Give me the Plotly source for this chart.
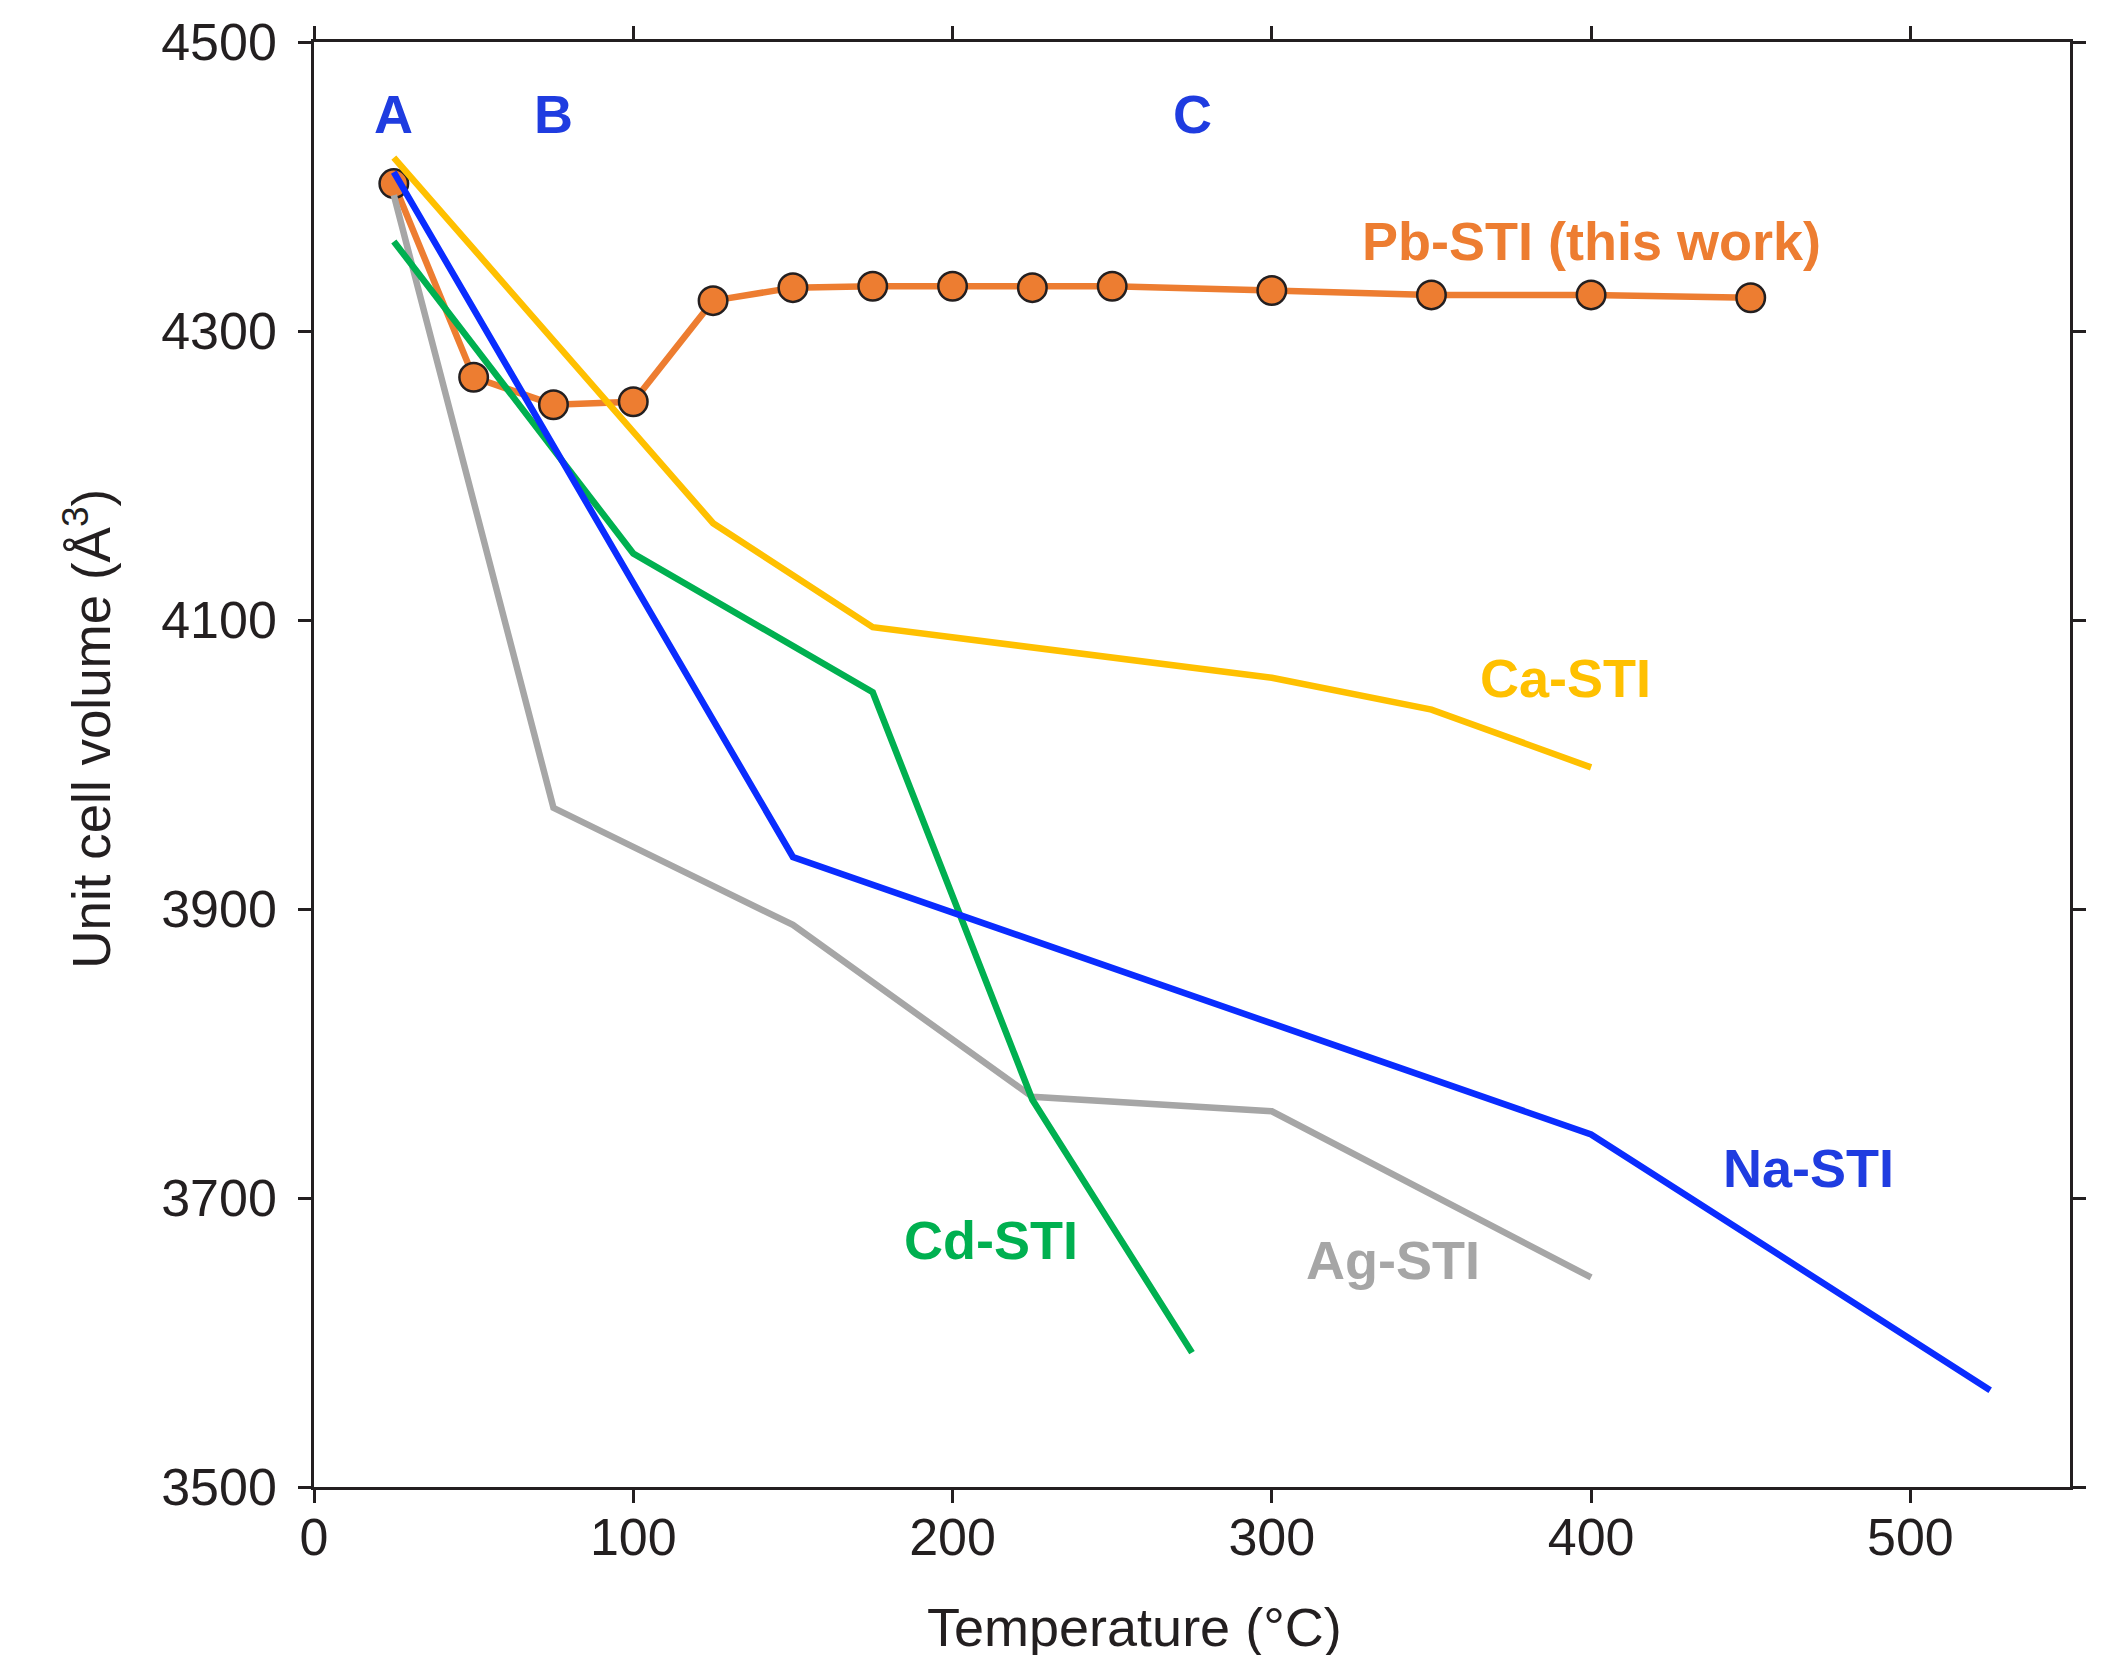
import plotly.graph_objects as go

# ---- data ----
pb_temp = [25, 50, 75, 100, 125, 150, 175, 200, 225, 250, 300, 350, 400, 450]
pb_vol = [4402, 4268, 4249, 4251, 4321, 4330, 4331, 4331, 4330, 4331, 4328, 4325, 4325, 4323]

ag_temp = [25, 75, 150, 225, 300, 400]
ag_vol = [4394, 3970, 3889, 3770, 3760, 3645]

cd_temp = [25, 100, 175, 225, 275]
cd_vol = [4362, 4146, 4050, 3768, 3593]

na_temp = [25, 150, 400, 525]
na_vol = [4410, 3936, 3744, 3567]

ca_temp = [25, 125, 175, 300, 350, 400]
ca_vol = [4420, 4167, 4095, 4060, 4038, 3998]

x_ticks = [0, 100, 200, 300, 400, 500]
y_ticks = [3500, 3700, 3900, 4100, 4300, 4500]

stage_labels = ["A", "B", "C"]
stage_temps = [25, 75, 275]
stage_vol = 4450

# ---- styles ----
ORANGE = "#ED7D31"
YELLOW = "#FFC000"
BLUE = "#0A2CFF"
LBLUE = "#1F3CE0"
GREEN = "#00B050"
GREY = "#A6A6A6"
INK = "#231F20"
FONT = "Liberation Sans, Arial, sans-serif"
LW = 6.5

fig = go.Figure()

fig.add_trace(go.Scatter(x=pb_temp, y=pb_vol, mode="lines+markers",
                         line=dict(color=ORANGE, width=LW),
                         marker=dict(size=28.5, color=ORANGE, line=dict(color=INK, width=2.5)),
                         name="Pb-STI"))
fig.add_trace(go.Scatter(x=ag_temp, y=ag_vol, mode="lines",
                         line=dict(color=GREY, width=LW), name="Ag-STI"))
fig.add_trace(go.Scatter(x=cd_temp, y=cd_vol, mode="lines",
                         line=dict(color=GREEN, width=LW), name="Cd-STI"))
fig.add_trace(go.Scatter(x=na_temp, y=na_vol, mode="lines",
                         line=dict(color=BLUE, width=LW), name="Na-STI"))
fig.add_trace(go.Scatter(x=ca_temp, y=ca_vol, mode="lines",
                         line=dict(color=YELLOW, width=LW), name="Ca-STI"))

def label(text, x, y, color):
    fig.add_annotation(x=x, y=y, text=f"<b>{text}</b>", showarrow=False,
                       font=dict(family=FONT, size=54, color=color),
                       xanchor="center", yanchor="middle")

for t, xt in zip(stage_labels, stage_temps):
    label(t, xt, stage_vol, LBLUE)

label("Pb-STI (this work)", 400, 4362, ORANGE)
label("Ca-STI", 392, 4060, YELLOW)
label("Na-STI", 468, 3721, LBLUE)
label("Cd-STI", 212, 3671, GREEN)
label("Ag-STI", 338, 3657, GREY)

# axis titles placed as annotations (paper coords)
fig.add_annotation(xref="paper", yref="paper", x=0.467, y=-0.097,
                   text="Temperature (°C)", showarrow=False,
                   font=dict(family=FONT, size=54, color=INK),
                   xanchor="center", yanchor="middle")
fig.add_annotation(xref="paper", yref="paper", x=-0.129, y=0.525,
                   text="Unit cell volume (Å<sup>3</sup>)", showarrow=False, textangle=-90,
                   font=dict(family=FONT, size=53, color=INK),
                   xanchor="center", yanchor="middle")

axis_common = dict(showline=True, linecolor=INK, linewidth=2.5, mirror="ticks",
                   ticks="outside", ticklen=13, tickwidth=2.5, tickcolor=INK,
                   showgrid=False, zeroline=False,
                   tickfont=dict(family=FONT, size=52, color=INK))

fig.update_xaxes(range=[0, 550], tickvals=x_ticks, ticklabelstandoff=-10, **axis_common)
fig.update_yaxes(range=[3500, 4500], tickvals=y_ticks, ticklabelstandoff=11, **axis_common)

fig.update_layout(width=2117, height=1655, showlegend=False,
                  plot_bgcolor="white", paper_bgcolor="white",
                  margin=dict(l=306, r=55, t=34, b=176, autoexpand=False),
                  font=dict(family=FONT, color=INK))

fig.write_html("out.html")
